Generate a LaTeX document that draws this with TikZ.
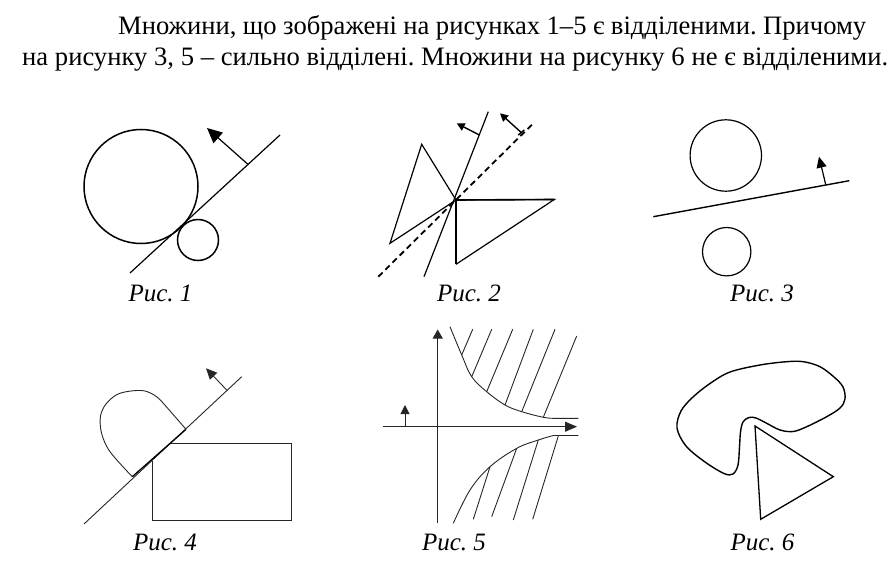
\documentclass[tikz,border=0pt]{standalone}
\usepackage{fontspec}
\setmainfont{Liberation Serif}
\frenchspacing
\usetikzlibrary{arrows.meta,calc}
\begin{document}
\begin{tikzpicture}[x=1bp,y=-1bp,
  maintext/.style={anchor=base west,inner sep=0pt,font=\fontsize{26.6bp}{30bp}\selectfont},
  caption/.style={anchor=base,inner sep=0pt,font=\fontsize{25bp}{30bp}\selectfont\itshape},
  thickln/.style={line width=1.5bp,black},
  midln/.style={line width=1.2bp,black},
  thinln/.style={line width=0.9bp,black!85},
  bigtip/.style={-{Triangle[length=15bp,width=14bp]}},
  smalltip/.style={-{Triangle[length=9bp,width=9bp]}},
  midtip/.style={-{Triangle[length=11bp,width=10bp]}}]
\useasboundingbox (0,0) rectangle (893,569);
% header text
\node[maintext] (line1) at (118,35) {\hbox to 748bp{Множини, що зображені на рисунках 1–5 є відділеними. Причому}};
\node[maintext] (line2) at (22,66) {\hbox to 866bp{на рисунку 3, 5 – сильно відділені. Множини на рисунку 6 не є відділеними.}};
% captions
\node[caption] (cap1) at (160.5,301) {Рис. 1};
\node[caption] (cap2) at (469,301) {Рис. 2};
\node[caption] (cap3) at (762,301) {Рис. 3};
\node[caption] (cap4) at (165,550) {Рис. 4};
\node[caption] (cap5) at (454,550) {Рис. 5};
\node[caption] (cap6) at (762.5,550) {Рис. 6};
% ---------- Fig 1
\draw[thickln] (141,186.5) circle[radius=57];
\draw[thickln] (198,240) circle[radius=20.5];
\coordinate (f1a) at (130,273);
\coordinate (f1b) at (280,135);
\coordinate (f1base) at (248,164.4);
\coordinate (f1tip) at (207,128);
\draw[midln] (f1a) -- (f1b);
\draw[midln,bigtip] (f1base) -- (f1tip);
% ---------- Fig 2
\coordinate (P) at (456,200);
\coordinate (t1a) at (421.7,144.3);
\coordinate (t1b) at (390,243.3);
\coordinate (t2a) at (554.3,199.5);
\coordinate (t2b) at (456,264.3);
\draw[midln,line join=miter] (P) -- (t1a) -- (t1b) -- cycle;
\draw[midln] (P) -- (t2a) -- (t2b);
\draw[line width=2.6bp] (t2b) -- (P);
\draw[line width=1.6bp] (P) -- (t2a);
\coordinate (s1) at (424,276.7);
\coordinate (s2) at (488.3,111.7);
\draw[midln] (s1) -- (s2);
\coordinate (s1base) at (479.3,135);
\coordinate (s1tip) at (456.7,123.3);
\draw[line width=1.4bp,{Triangle[length=8bp,width=8bp]}-] (s1tip) -- (s1base);
\coordinate (d1) at (378.3,276.7);
\coordinate (d2) at (533.3,123.3);
\draw[line width=1.8bp,dash pattern=on 6bp off 4bp] (d1) -- (d2);
\coordinate (d1base) at (521,132.3);
\coordinate (d1tip) at (500,113.3);
\draw[line width=1.4bp,{Triangle[length=8bp,width=8bp]}-] (d1tip) -- (d1base);
\draw[line width=1.4bp] ($(d1base)!4bp!(d2)$) -- ($(d1base)!4bp!(d1)$);
% ---------- Fig 3
\draw[midln] (725.8,155.5) circle[radius=35.7];
\draw[midln] (726.7,251.7) circle[radius=24.2];
\coordinate (l3a) at (653.3,216.7);
\coordinate (l3b) at (849.3,180.7);
\draw[line width=1.4bp] (l3a) -- (l3b);
\coordinate (a3base) at (825.7,184.5);
\coordinate (a3tip) at (819,156.7);
\draw[midln,midtip] (a3base) -- (a3tip);
% ---------- Fig 4
\coordinate (l4a) at (84,524);
\coordinate (l4b) at (241.7,376.7);
\draw[thinln] (l4a) -- (l4b);
\draw[line width=1.3bp] (132.3,476.7) -- (186,429.3);
\coordinate (a4base) at (226.7,390);
\coordinate (a4tip) at (206,368.3);
\draw[thinln,midtip] (a4base) -- (a4tip);
\draw[thinln] (170.7,443.3) -- (291.7,443.3) -- (291.7,520) -- (152.7,520) -- (152.7,460.7);
\draw[thinln] plot[smooth,tension=0.55] coordinates {(132.3,476.7) (110,451.7) (101.5,433) (100.5,416) (106,404) (117,394.5) (131,391) (145,391) (157,397) (167,407.5) (186,429.3)};
% ---------- Fig 5
\coordinate (ox1) at (383.3,426.7);
\coordinate (ox2) at (577,426.7);
\coordinate (oy1) at (437.7,523.3);
\coordinate (oy2) at (437.7,329.5);
\draw[thinln,-{Triangle[length=12bp,width=10bp]}] (ox1) -- (ox2);
\draw[thinln,-{Triangle[length=9bp,width=10bp]}] (oy1) -- (oy2);
\draw[thinln,smalltip] (405,426.7) -- (405,405);
\draw[thinln] plot[smooth,tension=0.6] coordinates {(450,326.7) (461.7,355) (471.7,376.7) (486.7,391.7) (505,405) (521.7,411.7) (543.3,417.3) (553.3,418.3)} -- (578.3,418.3);
\draw[thinln] plot[smooth,tension=0.6] coordinates {(453.3,523.3) (470,490) (490,466.7) (516.7,448.3) (538.3,440) (553.3,435.5)} -- (578.3,435.5);
\foreach \ax/\ay/\bx/\by in {461.7/355/472.7/329.3, 471.7/376.7/491.7/329.3, 486.7/391.7/512.7/329.3, 505/405/533.3/329.3, 521.7/411.7/555/329.3, 543.3/417.3/576.7/336}
  \draw[thinln] (\ax,\ay) -- (\bx,\by);
\foreach \ax/\ay/\bx/\by in {490/466.7/473.3/519.3, 516.7/448.3/491.7/516.7, 538.3/440/513.3/520, 558.3/436/532.7/519.3}
  \draw[thinln] (\ax,\ay) -- (\bx,\by);
% ---------- Fig 6
\draw[line width=1.4bp] plot[smooth cycle,tension=0.55] coordinates {
 (749,417.5) (743,422) (740.5,432) (739.5,447) (738,465) (733,474) (724,473.5) (705,462) (686,446) (677,428) (681,411) (693,397) (710,383.5) (730,372) (760,365) (786.7,361.7) (803.3,361.7) (820,366.7) (834,377) (843,387) (845,399) (840,408) (826.7,416.7) (806.7,426.7) (793.3,431.5) (780,430) (766.7,423.3) (756,418)};
\coordinate (tr1) at (755,426);
\coordinate (tr2) at (833.3,476.7);
\coordinate (tr3) at (760.7,519.3);
\draw[line width=1.3bp] (tr1) -- (tr2) -- (tr3) -- cycle;
\end{tikzpicture}
\end{document}
